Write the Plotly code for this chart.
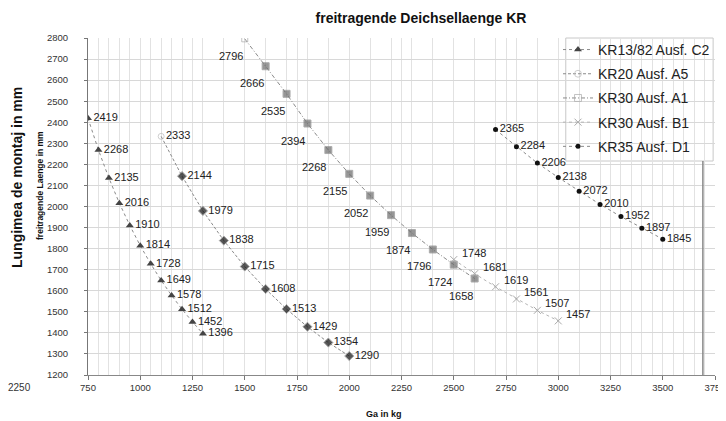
import plotly.graph_objects as go

# ---------------- data ----------------
c2_x = [750, 800, 850, 900, 950, 1000, 1050, 1100, 1150, 1200, 1250, 1300]
c2_y = [2419, 2268, 2135, 2016, 1910, 1814, 1728, 1649, 1578, 1512, 1452, 1396]

a5_x = [1100, 1200, 1300, 1400, 1500, 1600, 1700, 1800, 1900, 2000]
a5_y = [2333, 2144, 1979, 1838, 1715, 1608, 1513, 1429, 1354, 1290]

a1_x = [1500, 1600, 1700, 1800, 1900, 2000, 2100, 2200, 2300, 2400, 2500, 2600]
a1_y = [2796, 2666, 2535, 2394, 2268, 2155, 2052, 1959, 1874, 1796, 1724, 1658]

b1_x = [2500, 2600, 2700, 2800, 2900, 3000]
b1_y = [1748, 1681, 1619, 1561, 1507, 1457]

d1_x = [2700, 2800, 2900, 3000, 3100, 3200, 3300, 3400, 3500]
d1_y = [2365, 2284, 2206, 2138, 2072, 2010, 1952, 1897, 1845]

x_ticks = [750, 1000, 1250, 1500, 1750, 2000, 2250, 2500, 2750, 3000, 3250, 3500, 3750]
x_grid = list(range(750, 1300, 50)) + list(range(1300, 3300, 100)) + list(range(3300, 3701, 50))

FONT = "Liberation Sans, Arial, sans-serif"
NARROW = "Liberation Sans Narrow, Arial Narrow, Liberation Sans, Arial, sans-serif"
lab_font = dict(family=FONT, size=11, color="#222")

fig = go.Figure()

fig.add_trace(go.Scatter(
    x=c2_x, y=c2_y, name="KR13/82 Ausf. C2", legendgroup="g1",
    mode="lines+markers+text", text=[str(v) for v in c2_y], textposition="middle right",
    textfont=lab_font,
    line=dict(color="#8a8a8a", width=1, dash="dot"),
    marker=dict(symbol="triangle-up", size=7, color="#444"),
))

fig.add_trace(go.Scatter(
    x=a5_x, y=a5_y, name="KR20 Ausf. A5", legendgroup="g2",
    mode="lines+markers+text", text=[str(v) for v in a5_y], textposition="middle right",
    textfont=lab_font,
    line=dict(color="#8a8a8a", width=1, dash="3px,2px"),
    marker=dict(symbol=["circle-open"] + ["diamond"] * (len(a5_y) - 1), size=[6] + [7] * (len(a5_y) - 1),
                color=["#bbbbbb"] + ["#111"] * (len(a5_y) - 1)),
))

fig.add_trace(go.Scatter(
    x=a1_x, y=a1_y, name="KR30 Ausf. A1", legendgroup="g3",
    mode="lines+markers",
    line=dict(color="#8a8a8a", width=1, dash="4px,2px,1px,2px"),
    marker=dict(symbol=["square-open"] + ["square"] * (len(a1_y) - 1), size=[6] + [7] * (len(a1_y) - 1),
                color=["#aaaaaa"] + ["#6a6a6a"] * (len(a1_y) - 1)),
))

fig.add_trace(go.Scatter(
    x=b1_x, y=b1_y, name="KR30 Ausf. B1", legendgroup="g4",
    mode="lines+markers",
    line=dict(color="#b5b5b5", width=1, dash="dot"),
    marker=dict(symbol="x-thin", size=7, color="#aaaaaa", line=dict(color="#aaaaaa", width=1)),
))

fig.add_trace(go.Scatter(
    x=d1_x, y=d1_y, name="KR35 Ausf. D1", legendgroup="g5",
    mode="lines+markers+text", text=[str(v) for v in d1_y], textposition="middle right",
    textfont=lab_font,
    line=dict(color="#8a8a8a", width=1, dash="dot"),
    marker=dict(symbol="circle", size=5, color="#111"),
))

annotations = []
for xv, yv in zip(a1_x, a1_y):
    annotations.append(dict(x=xv, y=yv, xref="x", yref="y", text=str(yv), showarrow=False,
                            xanchor="right", yanchor="middle", xshift=0, yshift=-17, font=lab_font))
for xv, yv in zip(b1_x, b1_y):
    annotations.append(dict(x=xv, y=yv, xref="x", yref="y", text=str(yv), showarrow=False,
                            xanchor="left", yanchor="middle", xshift=6, yshift=7, font=lab_font))

annotations += [
    dict(text="<b>Lungimea de montaj in mm</b>", xref="paper", yref="paper", x=-0.1132, y=0.5846,
         textangle=-90, showarrow=False, xanchor="center", yanchor="middle",
         font=dict(family=FONT, size=14, color="#111")),
    dict(text="<b>freitragende Laenge in mm</b>", xref="paper", yref="paper", x=-0.0766, y=0.5638,
         textangle=-90, showarrow=False, xanchor="center", yanchor="middle",
         font=dict(family=FONT, size=8.5, color="#111")),
    dict(text="<b>Ga in kg</b>", xref="paper", yref="paper", x=0.472, y=-0.116,
         showarrow=False, xanchor="center", yanchor="middle",
         font=dict(family=FONT, size=9, color="#111")),
    dict(text="2250", xref="paper", yref="paper", x=-0.1085, y=-0.036,
         showarrow=False, xanchor="center", yanchor="middle",
         font=dict(family=NARROW, size=10, color="#333")),
]

# the page adds an 8px body margin; size the figure so the plot lands where the reference has it
fig.update_layout(
    width=718, height=413,
    margin=dict(l=80, r=11, t=30, b=46),
    paper_bgcolor="white", plot_bgcolor="white",
    title=dict(text="<b>freitragende Deichsellaenge KR</b>", x=413 / 718, xanchor="center",
               y=1 - 10 / 413, yanchor="middle", font=dict(family=FONT, size=14, color="#111")),
    showlegend=True,
    legend=dict(x=1.0, xanchor="right", y=1.012, yanchor="top", bgcolor="rgba(255,255,255,0)",
                borderwidth=0, traceorder="grouped", tracegroupgap=3,
                font=dict(family=FONT, size=14, color="#222"), itemwidth=30),
    annotations=annotations,
    shapes=[
        dict(type="rect", xref="paper", yref="paper", x0=0.762, x1=0.997, y0=0.635, y1=1.0,
             fillcolor="white", line=dict(color="#c8c8c8", width=1), layer="between"),
        dict(type="line", xref="x", yref="paper", x0=3692, x1=3692, y0=0, y1=0.635,
             line=dict(color="#888", width=1.5)),
    ],
)

fig.update_xaxes(
    range=[750, 3750], tickmode="array", tickvals=x_ticks, ticks="outside", ticklen=4,
    tickcolor="#777", showline=True, linecolor="#888", linewidth=1, automargin=False,
    showgrid=True, gridcolor="#e2e2e2", gridwidth=1, zeroline=False,
    tickfont=dict(family=NARROW, size=9.5, color="#333"),
    minor=dict(tickmode="array", tickvals=x_grid, showgrid=True, gridcolor="#e2e2e2", gridwidth=1),
)
fig.update_yaxes(
    range=[1200, 2800], dtick=100, tick0=1200, ticks="outside", ticklen=3,
    tickcolor="#777", showline=True, linecolor="#777", linewidth=1, automargin=False,
    showgrid=True, gridcolor="#d8d8d8", gridwidth=1, zeroline=False,
    tickfont=dict(family=NARROW, size=9.5, color="#333"), ticklabelstandoff=14,
)

fig.write_html("out.html")
